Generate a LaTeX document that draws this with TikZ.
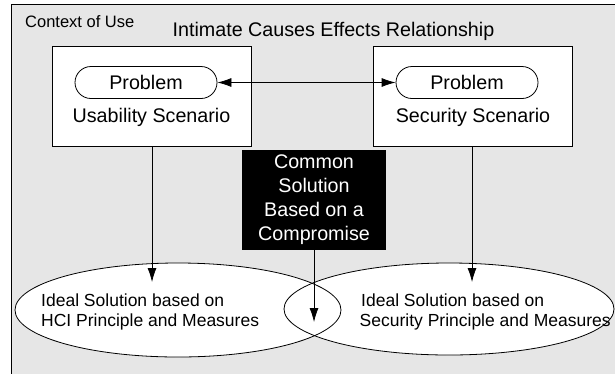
\documentclass[tikz,border=0pt]{standalone}
\usepackage{fontspec}
\setmainfont{Liberation Sans}
\usetikzlibrary{arrows.meta,shapes.geometric}
\definecolor{bggray}{HTML}{E6E6E6}
\begin{document}
\begin{tikzpicture}[x=1pt,y=-1pt,
  bigtxt/.style={font=\fontsize{19.7}{24}\selectfont, inner sep=0pt},
  smalltxt/.style={font=\fontsize{16.5}{19}\selectfont, inner sep=0pt},
  elltxt/.style={font=\fontsize{17.5}{20}\selectfont, inner sep=0pt, anchor=base west},
  scenbox/.style={draw=black, line width=0.8pt, fill=white, inner sep=0pt, anchor=north west, minimum width=199pt, minimum height=100pt},
  pill/.style={draw=black, line width=0.8pt, fill=white, rounded corners=16pt, inner sep=0pt, minimum width=142pt, minimum height=32pt, font=\fontsize{19.7}{24}\selectfont},
  blackbox/.style={fill=black, text=white, inner sep=0pt, minimum width=144pt, minimum height=100pt, align=center, font=\fontsize{19.7}{24}\selectfont},
  ideal/.style={draw=black, line width=0.8pt, ellipse, inner sep=0pt},
  conn/.style={line width=0.8pt, -{Latex[length=14pt,width=9pt]}},
  dconn/.style={line width=0.8pt, {Latex[length=14pt,width=9pt]}-{Latex[length=14pt,width=9pt]}}
]
\useasboundingbox (0,0) rectangle (615,373);
\fill[bggray] (11,4) rectangle (630,390);
\draw[line width=0.9pt] (630,4) -- (11,4) -- (11,390);

\node[smalltxt, anchor=base west] (ctx) at (25,27) {Context of Use};
\node[bigtxt, anchor=base west] (title) at (172.5,36.5) {Intimate Causes Effects Relationship};

\node[scenbox] (ubox) at (52,46) {};
\node[scenbox] (sbox) at (373,46) {};
\node[pill] (up) at (146,82.5) {Problem};
\node[pill] (sp) at (467,82.5) {Problem};
\node[bigtxt, anchor=base] (ulab) at (151.5,122) {Usability Scenario};
\node[bigtxt, anchor=base] (slab) at (473,122) {Security Scenario};

\draw[dconn] (up.east) -- (sp.west);

\fill[white] (178,310) ellipse [x radius=163pt, y radius=47pt];
\fill[white] (449,309) ellipse [x radius=165pt, y radius=46pt];
\node[ideal, minimum width=326pt, minimum height=94pt] (hci) at (178,310) {};
\node[ideal, minimum width=330pt, minimum height=92pt] (sec) at (449,309) {};

\node[blackbox] (common) at (314,200) {Common\\Solution\\Based on a\\Compromise};

\coordinate (ltip) at (152,282);
\coordinate (rtip) at (472,282);
\coordinate (mtip) at (314,322);
\draw[conn] (ltip |- ubox.south) -- (ltip);
\draw[conn] (rtip |- sbox.south) -- (rtip);
\draw[conn] (common.south) -- (mtip);

\node[elltxt] (h1) at (41,306) {Ideal Solution based on};
\node[elltxt] (h2) at (41,326) {HCI Principle and Measures};
\node[elltxt] (s1) at (361,306) {Ideal Solution based on};
\node[elltxt] (s2) at (359.5,326) {Security Principle and Measures};
\end{tikzpicture}
\end{document}
